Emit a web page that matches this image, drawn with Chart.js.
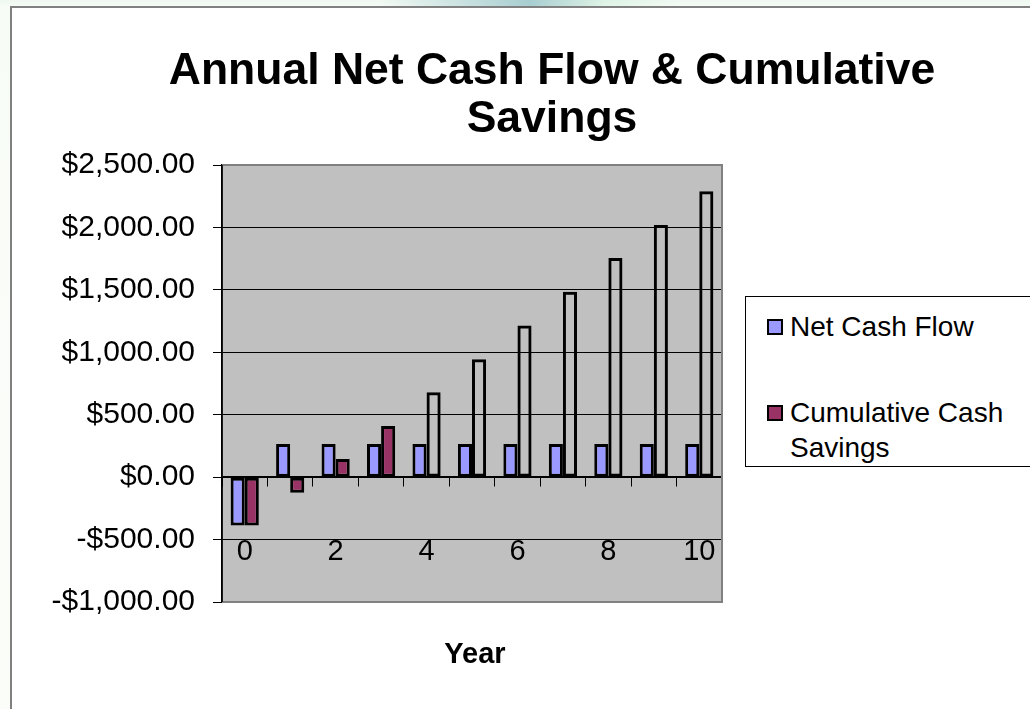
<!DOCTYPE html>
<html>
<head>
<meta charset="utf-8">
<script src="https://cdn.jsdelivr.net/npm/chart.js@4"></script>
<style>
html,body{margin:0;padding:0;width:1030px;height:709px;overflow:hidden;}
body{position:relative;background:linear-gradient(180deg,#eef8f1 0px,#f8fcf7 8px,#fbfdf9 709px);font-family:"Liberation Sans",Arial,sans-serif;color:#000;}
#topglow{position:absolute;left:380px;top:0;width:300px;height:7px;background:linear-gradient(90deg,rgba(150,200,190,0) 0%,rgba(150,195,200,0.8) 50%,rgba(180,230,200,0.3) 75%,rgba(200,240,210,0) 100%);}
#frame{position:absolute;left:10px;top:6px;width:1040px;height:720px;background:#fff;border-left:2px solid #808080;border-top:2px solid #808080;}
#chartWrap{position:absolute;left:0;top:0;width:1030px;height:709px;}
#title{position:absolute;left:0;top:45px;width:1104px;text-align:center;font-weight:bold;font-size:44.5px;line-height:48px;}
#xtitle{position:absolute;left:375px;top:636px;width:200px;text-align:center;font-weight:bold;font-size:29px;line-height:34px;}
#legend{position:absolute;left:745px;top:296px;width:320px;height:171px;border:1px solid #000;background:#fff;box-sizing:border-box;}
.lg{position:absolute;left:44px;font-size:28px;line-height:35px;white-space:nowrap;}
.sw{position:absolute;left:21px;width:11px;height:11px;border:2px solid #000;}
</style>
</head>
<body>
<div id="topglow"></div>
<div id="frame"></div>
<div id="chartWrap"><canvas id="c" width="1030" height="709"></canvas></div>
<div id="title">Annual Net Cash Flow &amp; Cumulative<br>Savings</div>
<div id="xtitle">Year</div>
<div id="legend"></div>
<script>
// ---- data ----
const years = ['0','1','2','3','4','5','6','7','8','9','10'];
const netCashFlow = [-387, 265, 265, 265, 265, 265, 265, 265, 265, 265, 265];
const cumulativeSavings = [-387, -125, 145, 410, 680, 945, 1215, 1485, 1755, 2020, 2290];
const seriesNames = ['Net Cash Flow', 'Cumulative Cash Savings'];
const yMin = -1000, yMax = 2500, yStep = 500;

// ---- styles ----
const blue = '#9999FF';
const maroon = '#993366';
const filledCumulativeCount = 4;

function money(v){
  const s = Math.abs(v).toLocaleString('en-US',{minimumFractionDigits:2,maximumFractionDigits:2});
  return (v < 0 ? '-$' : '$') + s;
}

const plotBg = {
  id:'plotBg',
  beforeDraw(chart){
    const {ctx, chartArea:a} = chart;
    ctx.save();
    ctx.fillStyle = '#C0C0C0';
    ctx.fillRect(a.left, a.top, a.right - a.left, a.bottom - a.top);
    ctx.restore();
  },
  afterDraw(chart){
    const {ctx, chartArea:a} = chart;
    ctx.save();
    ctx.strokeStyle = '#808080';
    ctx.lineWidth = 2;
    ctx.beginPath();
    ctx.moveTo(a.left, a.top);
    ctx.lineTo(a.right, a.top);
    ctx.lineTo(a.right, a.bottom);
    ctx.lineTo(a.left, a.bottom);
    ctx.stroke();
    ctx.strokeStyle = '#000';
    ctx.lineWidth = 1.5;
    ctx.beginPath();
    ctx.moveTo(a.left, a.top);
    ctx.lineTo(a.left, a.bottom);
    ctx.stroke();
    ctx.restore();
  }
};

const chart = new Chart(document.getElementById('c'), {
  type:'bar',
  data:{
    labels: years,
    datasets:[
      {label: seriesNames[0], data: netCashFlow, backgroundColor: blue, borderColor:'#000', borderWidth:3, borderSkipped:false, barPercentage:1, categoryPercentage:0.62},
      {label: seriesNames[1], data: cumulativeSavings,
       backgroundColor: (ctx) => ctx.dataIndex < filledCumulativeCount ? maroon : 'rgba(0,0,0,0)',
       borderColor:'#000', borderWidth:3, borderSkipped:false, barPercentage:1, categoryPercentage:0.62}
    ]
  },
  options:{
    responsive:false,
    animation:false,
    layout:{padding:{left:0, top:165, right:308, bottom:107}},
    plugins:{legend:{display:false}, title:{display:false}, tooltip:{enabled:false}},
    scales:{
      x:{
        position:{y:0},
        grid:{offset:true, drawOnChartArea:false, drawTicks:true, tickLength:9, tickColor:'#000', color:'#000'},
        border:{display:true, color:'#000', width:1.5},
        ticks:{autoSkip:false, maxRotation:0, padding:48, color:'#000',
          font:{family:'"Liberation Sans", Arial, sans-serif', size:29},
          callback:(v,i) => i % 2 === 0 ? years[i] : ''}
      },
      y:{
        min:yMin, max:yMax,
        afterFit:(s) => { s.width = 222; },
        grid:{color:(ctx) => (ctx.tick && (ctx.tick.value === yMax || ctx.tick.value === yMin)) ? 'rgba(0,0,0,0)' : '#000',
              lineWidth:1, tickLength:9, tickColor:'#000'},
        border:{display:true, color:'#000', width:1.5},
        ticks:{stepSize:yStep, padding:18, color:'#000',
          font:{family:'"Liberation Sans", Arial, sans-serif', size:30},
          callback:(v) => money(v)}
      }
    }
  },
  plugins:[plotBg]
});

// HTML legend built from the datasets
const legend = document.getElementById('legend');
const legendRows = [
  {top:12, swTop:22, text: seriesNames[0]},
  {top:98, swTop:108, text: 'Cumulative Cash<br>Savings'}
];
chart.data.datasets.forEach((ds, i) => {
  const sw = document.createElement('div');
  sw.className = 'sw';
  sw.style.top = legendRows[i].swTop + 'px';
  sw.style.width = '12px';
  sw.style.height = '12px';
  sw.style.background = i === 0 ? blue : maroon;
  legend.appendChild(sw);
  const t = document.createElement('div');
  t.className = 'lg';
  t.style.top = legendRows[i].top + 'px';
  t.innerHTML = legendRows[i].text;
  legend.appendChild(t);
});
</script>
</body>
</html>
